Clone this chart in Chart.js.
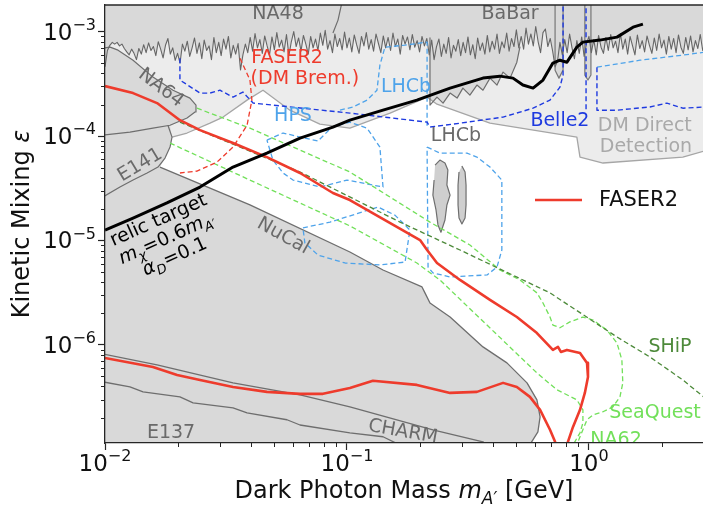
<!DOCTYPE html>
<html>
<head>
<meta charset="utf-8">
<script src="https://cdn.jsdelivr.net/npm/chart.js@4.4.1/dist/chart.umd.min.js"></script>
<style>
  html, body { margin: 0; padding: 0; background: #fff; }
  canvas { display: block; }
</style>
</head>
<body>
<canvas id="chart" width="703" height="505"></canvas>
<script>
// ---- data: [mass (GeV), epsilon] ----
const babarLimit = [
  [0.01,4.6e-4],[0.01023,6.6e-4],[0.01047,7.4e-4],[0.01072,7.9e-4],[0.01096,7.6e-4],[0.01122,7.9e-4],[0.01148,7.3e-4],
  [0.01175,7.6e-4],[0.01202,6.9e-4],[0.0123,6.4e-4],[0.01259,6.0e-4],[0.01288,6.8e-4],[0.01318,6.2e-4],[0.01349,5.4e-4],
  [0.0138,6.9e-4],[0.01413,6.1e-4],[0.01445,7.5e-4],[0.01479,6.3e-4],[0.01514,7.8e-4],[0.01549,6.6e-4],[0.01585,7.2e-4],
  [0.01622,5.9e-4],[0.0166,8.0e-4],[0.01698,6.8e-4],[0.01738,5.6e-4],[0.01778,7.4e-4],[0.0182,8.6e-4],[0.01862,6.1e-4],
  [0.01905,7.0e-4],[0.0195,5.3e-4],[0.01995,6.2e-4],[0.02042,5.0e-4],[0.02089,7.6e-4],[0.02138,6.5e-4],[0.02188,8.1e-4],
  [0.02239,5.8e-4],[0.02291,7.0e-4],[0.02344,8.7e-4],[0.02399,6.2e-4],[0.02455,7.8e-4],[0.02512,5.5e-4],[0.0257,8.3e-4],
  [0.0263,6.6e-4],[0.02692,7.3e-4],[0.02754,5.4e-4],[0.02818,8.8e-4],[0.02884,6.3e-4],[0.02951,7.9e-4],[0.0302,5.9e-4],
  [0.0309,8.5e-4],[0.03162,6.8e-4],[0.03236,9.0e-4],[0.03311,5.6e-4],[0.03388,7.4e-4],[0.03467,6.1e-4],[0.03548,7.7e-4],
  [0.03631,4.3e-4],[0.03715,6.0e-4],[0.03802,7.6e-4],[0.0389,6.3e-4],[0.03981,8.8e-4],[0.04074,6.5e-4],[0.04169,9.6e-4],
  [0.04266,7.0e-4],[0.04365,8.4e-4],[0.04467,6.2e-4],[0.04571,9.1e-4],[0.04677,7.3e-4],[0.04786,6.0e-4],[0.04898,8.9e-4],
  [0.05012,6.7e-4],[0.05129,9.8e-4],[0.05248,7.1e-4],[0.0537,8.3e-4],[0.05495,6.4e-4],[0.05623,9.4e-4],[0.05754,5.9e-4],
  [0.05888,8.0e-4],[0.06026,1.0e-3],[0.06166,7.2e-4],[0.0631,8.7e-4],[0.06457,6.5e-4],[0.06607,9.2e-4],[0.06761,7.6e-4],
  [0.06918,6.1e-4],[0.07079,9.0e-4],[0.07244,7.0e-4],[0.07413,8.5e-4],[0.07586,6.6e-4],[0.07762,9.7e-4],[0.07943,7.4e-4],
  [0.08128,1.03e-3],[0.08318,6.8e-4],[0.08511,8.2e-4],[0.0871,6.3e-4],[0.08913,9.5e-4],[0.0912,7.2e-4],[0.09333,8.6e-4],
  [0.0955,6.7e-4],[0.09772,9.9e-4],[0.1,7.0e-4],[0.1023,8.7e-4],[0.1047,6.4e-4],[0.1072,9.3e-4],[0.1096,7.5e-4],
  [0.1122,6.2e-4],[0.1148,9.0e-4],[0.1175,7.3e-4],[0.1202,9.8e-4],[0.123,6.8e-4],[0.1259,8.4e-4],[0.1288,6.5e-4],
  [0.1318,9.5e-4],[0.1349,7.7e-4],[0.138,6.3e-4],[0.1413,9.1e-4],[0.1445,7.0e-4],[0.1479,8.8e-4],[0.1514,6.6e-4],
  [0.1549,9.7e-4],[0.1585,7.2e-4],[0.1622,8.5e-4],[0.166,6.1e-4],[0.1698,9.2e-4],[0.1738,7.6e-4],[0.1778,8.9e-4],
  [0.182,6.7e-4],[0.1862,9.4e-4],[0.1905,7.1e-4],[0.195,8.2e-4],[0.1995,6.4e-4],[0.2042,9.0e-4],[0.2089,7.3e-4],
  [0.2138,8.6e-4],[0.2188,6.0e-4],[0.2239,8.3e-4],[0.2291,5.4e-4],[0.2344,7.2e-4],[0.2399,8.5e-4],[0.2455,5.8e-4],
  [0.2512,7.6e-4],[0.257,6.2e-4],[0.263,8.8e-4],[0.2692,5.6e-4],[0.2754,7.4e-4],[0.2818,6.5e-4],[0.2884,8.4e-4],
  [0.2951,5.9e-4],[0.302,7.9e-4],[0.309,6.3e-4],[0.3162,8.9e-4],[0.3236,6.0e-4],[0.3311,7.5e-4],[0.3388,5.5e-4],
  [0.3467,8.7e-4],[0.3548,6.6e-4],[0.3631,7.8e-4],[0.3715,6.1e-4],[0.3802,9.2e-4],[0.389,6.4e-4],[0.3981,8.1e-4],
  [0.4074,6.8e-4],[0.4169,9.5e-4],[0.4266,6.2e-4],[0.4365,8.0e-4],[0.4467,7.0e-4],[0.4571,9.7e-4],[0.4677,6.5e-4],
  [0.4786,8.6e-4],[0.4898,7.2e-4],[0.5012,1.04e-3],[0.5129,7.0e-4],[0.5248,9.0e-4],[0.537,6.8e-4],[0.5495,1.08e-3],
  [0.5623,7.6e-4],[0.5754,9.5e-4],[0.5888,7.3e-4],[0.6026,1.12e-3],[0.6166,8.0e-4],[0.631,6.3e-4],[0.6457,9.8e-4],
  [0.6607,1.06e-3],[0.6761,7.2e-4],[0.6918,8.6e-4],[0.7079,6.5e-4],[0.7244,4.6e-4],[0.7413,5.2e-4],[0.7586,7.9e-4],
  [0.7762,6.0e-4],[0.7943,8.4e-4],[0.8128,6.3e-4],[0.8318,9.5e-4],[0.8511,7.0e-4],[0.871,5.5e-4],[0.8913,8.2e-4],
  [0.912,6.2e-4],[0.9333,8.9e-4],[0.955,5.8e-4],[0.9772,7.7e-4],[1.0,9.0e-4],[1.023,6.3e-4],[1.047,8.4e-4],
  [1.072,6.0e-4],[1.096,9.2e-4],[1.122,7.1e-4],[1.148,6.2e-4],[1.175,8.8e-4],[1.202,6.6e-4],[1.23,9.4e-4],
  [1.259,7.0e-4],[1.288,8.1e-4],[1.318,6.3e-4],[1.349,9.6e-4],[1.38,6.8e-4],[1.413,8.5e-4],[1.445,6.1e-4],
  [1.479,9.0e-4],[1.514,7.3e-4],[1.549,6.0e-4],[1.585,9.3e-4],[1.622,6.9e-4],[1.66,8.2e-4],[1.698,6.4e-4],
  [1.738,9.1e-4],[1.778,7.4e-4],[1.82,6.2e-4],[1.862,8.7e-4],[1.905,6.6e-4],[1.95,9.5e-4],[1.995,7.0e-4],
  [2.042,8.3e-4],[2.089,6.1e-4],[2.138,9.0e-4],[2.188,6.8e-4],[2.239,8.6e-4],[2.291,6.3e-4],[2.344,9.3e-4],
  [2.399,7.1e-4],[2.455,6.2e-4],[2.512,8.8e-4],[2.57,6.7e-4],[2.63,9.1e-4],[2.692,6.4e-4],[2.754,8.2e-4],
  [2.818,6.9e-4],[2.884,9.4e-4],[2.951,6.6e-4],[3.02,8.0e-4]
];
const na48Edge = [[0.09528,1.9e-3],[0.09183,1.29e-3],[0.0875,9.7e-4]];
const lhcbEdge = [
  [0.2203,8.7e-4],[0.2203,1.98e-4],[0.2355,2.36e-4],[0.2495,2.07e-4],[0.2667,2.58e-4],[0.2851,2.31e-4],
  [0.3013,2.88e-4],[0.3221,2.47e-4],[0.3443,3.08e-4],[0.3648,2.75e-4],[0.3899,3.59e-4],[0.4169,3.08e-4],
  [0.4416,4.10e-4],[0.4721,3.59e-4],[0.5035,5.10e-4],[0.5188,7.2e-4]
];
const spikeA = [[0.7244,2e-3],[0.7244,4.28e-4],[0.7516,3.59e-4],[0.7816,4.28e-4],[0.7816,2e-3]];
const spikeB = [[0.9616,2e-3],[0.9616,3.84e-4],[0.9908,3.44e-4],[1.019,3.84e-4],[1.019,2e-3]];
const allowedTop = [
  [0.01892,9.78e-5],[0.02183,1.07e-4],[0.02716,1.33e-4],[0.03076,1.52e-4],[0.03864,2.21e-4],[0.04498,2.75e-4],
  [0.05808,1.77e-4],[0.07727,1.30e-4],[0.1028,1.19e-4],[0.1507,1.66e-4],[0.2143,2.36e-4],[0.2355,2.02e-4],
  [0.3899,1.33e-4],[0.8913,9.78e-5],[0.9183,6.29e-5],[1.143,5.52e-5],[2.443,6.29e-5],[3.1,7.35e-5]
];
const na64Shape = [
  [0.0098,1.02e-4],[0.01268,1.09e-4],[0.01578,1.19e-4],[0.01857,1.27e-4],[0.02183,1.49e-4],[0.02355,1.70e-4],
  [0.02377,1.98e-4],[0.02244,2.31e-4],[0.0191,2.75e-4],[0.01578,3.67e-4],[0.01306,5.33e-4],[0.01132,6.65e-4],
  [0.0105,7.11e-4],[0.0098,6.95e-4]
];
const e141Edge = [
  [0.0098,2.61e-5],[0.01153,3.25e-5],[0.01306,3.79e-5],[0.01493,4.43e-5],[0.01656,5.05e-5],[0.0177,6.15e-5],
  [0.01857,7.85e-5],[0.01892,9.78e-5],[0.0182,1.27e-4]
];
const nucalEdge = [
  [0.5546,1.0e-7],[0.6152,1.47e-7],[0.6281,2.05e-7],[0.6095,2.98e-7],[0.5546,4.33e-7],[0.4581,6.73e-7],
  [0.3648,9.57e-7],[0.2667,1.85e-6],[0.2203,2.52e-6],[0.2100,3.15e-6],[0.2042,3.59e-6],[0.1409,5.22e-6],
  [0.1028,7.76e-6],[0.03972,2.19e-5],[0.01687,5.05e-5]
];
const charmEdge = [
  [0.0098,8.2e-7],[0.01641,6.44e-7],[0.03381,4.33e-7],[0.06397,3.32e-7],[0.1028,2.55e-7],[0.2265,1.54e-7],
  [0.3648,1.18e-7],[0.3899,1.03e-7]
];
const e137Edge = [
  [0.0098,4.43e-7],[0.01268,3.96e-7],[0.01436,3.55e-7],[0.0204,3.18e-7],[0.02312,2.79e-7],[0.03381,2.50e-7],
  [0.03864,2.23e-7],[0.05649,1.92e-7],[0.06397,1.71e-7],[0.1028,1.44e-7],[0.1409,1.32e-7],[0.1656,1.10e-7]
];
const lhcbBlobA = [
  [0.2312,5.27e-5],[0.2421,5.89e-5],[0.2541,5.52e-5],[0.2612,4.73e-5],[0.2588,3.40e-5],[0.2667,2.72e-5],
  [0.2588,2.19e-5],[0.2541,1.57e-5],[0.2445,1.20e-5],[0.2377,1.41e-5],[0.2333,1.96e-5],[0.2265,2.72e-5],
  [0.2291,3.79e-5]
];
const lhcbBlobB = [
  [0.2985,5.16e-5],[0.3076,4.53e-5],[0.3105,3.40e-5],[0.3105,2.19e-5],[0.3076,1.64e-5],[0.2985,1.44e-5],
  [0.2904,1.64e-5],[0.2877,2.19e-5],[0.2877,3.40e-5],[0.2904,4.53e-5]
];
const faser2 = [
  [0.0100,3.01e-4],[0.01306,2.58e-4],[0.01641,2.07e-4],[0.0204,1.42e-4],[0.0247,1.14e-4],[0.03381,8.57e-5],
  [0.04667,6.29e-5],[0.06397,4.43e-5],[0.0875,2.85e-5],[0.1028,2.44e-5],[0.2004,1.01e-5],[0.2143,8.11e-6],
  [0.2355,6.09e-6],[0.2931,4.19e-6],[0.3899,2.70e-6],[0.5035,1.85e-6],[0.6095,1.30e-6],[0.7096,8.96e-7],
  [0.7447,9.57e-7],[0.7656,8.57e-7],[0.8110,8.96e-7],[0.9183,8.38e-7],[0.9817,6.73e-7],[0.9908,4.94e-7],
  [0.9616,3.47e-7],[0.9183,2.39e-7],[0.8590,1.64e-7],[0.8185,1.18e-7],[0.8035,1.03e-7],
  [0.7096,1.03e-7],[0.7244,1.18e-7],[0.6902,1.54e-7],[0.6281,2.39e-7],[0.5702,3.18e-7],[0.5035,3.96e-7],
  [0.4416,4.33e-7],[0.3443,3.55e-7],[0.2667,3.47e-7],[0.1945,4.14e-7],[0.1280,4.53e-7],[0.1028,3.87e-7],
  [0.0796,3.40e-7],[0.06397,3.40e-7],[0.04667,3.55e-7],[0.03381,3.96e-7],[0.0247,4.62e-7],[0.01986,5.16e-7],
  [0.01578,6.15e-7],[0.0100,7.51e-7]
];
const faser2Brem = [
  [0.03614,5.57e-4],[0.03972,3.44e-4],[0.04046,2.21e-4],[0.03864,1.27e-4],[0.03381,7.85e-5],[0.02904,5.64e-5],
  [0.02399,4.62e-5],[0.0204,4.43e-5]
];
const seaQuest = [
  [0.02399,1.85e-4],[0.03972,1.19e-4],[0.1028,4.53e-5],[0.2203,1.50e-5],[0.3221,9.06e-6],[0.4285,5.22e-6],
  [0.5188,4.19e-6],[0.6095,3.15e-6],[0.6457,2.52e-6],[0.6902,1.85e-6],[0.7096,1.55e-6],[0.7586,1.46e-6],
  [0.8337,1.66e-6],[0.9441,1.85e-6],[1.040,1.73e-6],[1.186,1.39e-6],[1.306,1.04e-6],[1.368,7.18e-7],
  [1.380,4.33e-7],[1.343,3.18e-7],[1.256,2.55e-7],[1.143,2.29e-7],[1.040,2.14e-7],[0.9817,1.92e-7],
  [0.9183,1.32e-7],[0.8913,1.10e-7]
];
const ship = [
  [0.0204,1.36e-4],[0.06397,4.53e-5],[0.1656,1.50e-5],[0.2931,8.11e-6],[0.6902,3.15e-6],[1.306,1.19e-6],
  [1.786,7.67e-7],[2.443,4.62e-7],[3.013,3.11e-7]
];
const na62 = [
  [0.01857,8.57e-5],[0.03972,3.79e-5],[0.1028,1.38e-5],[0.1945,6.09e-6],[0.2421,4.19e-6],[0.6095,5.39e-7],
  [0.7379,3.71e-7],[0.8913,2.98e-7],[0.9441,2.39e-7],[0.9441,1.79e-7],[0.9183,1.44e-7],[0.8590,1.10e-7]
];
const belle2 = [
  [0.0204,5.57e-4],[0.0204,3.44e-4],[0.0247,2.58e-4],[0.02716,2.58e-4],[0.02985,2.75e-4],[0.03381,2.36e-4],
  [0.03715,2.64e-4],[0.04093,2.07e-4],[0.1028,1.66e-4],[0.2143,1.36e-4],[0.2203,1.22e-4],[0.2742,1.30e-4],
  [0.4416,1.52e-4],[0.5875,1.85e-4],[0.6902,2.21e-4],[0.7586,2.94e-4],[0.7816,3.84e-4],[0.7816,2e-3]
];
const belle2Wall = [[0.9727,2e-3],[0.9727,1.77e-4]];
const belle2Right = [
  [1.079,4.57e-4],[1.079,1.77e-4],[1.306,1.77e-4],[1.786,1.90e-4],[2.099,2.07e-4],[2.443,1.85e-4],[3.013,1.90e-4]
];
const lhcbUpper = [
  [0.09354,1.77e-4],[0.1059,1.90e-4],[0.1211,2.21e-4],[0.1330,2.75e-4],[0.1368,4.78e-4],[0.1435,7.11e-4],
  [0.1738,7.43e-4],[0.2143,7.94e-4],[0.2143,1.22e-4]
];
const lhcbLower = [
  [0.2143,7.85e-5],[0.2421,6.87e-5],[0.3133,6.87e-5],[0.3443,6.29e-5],[0.3899,5.05e-5],[0.4365,3.79e-5],
  [0.4365,8.11e-6],[0.4169,5.57e-6],[0.3793,4.68e-6],[0.2667,4.48e-6],[0.2265,4.89e-6],[0.2163,5.57e-6],
  [0.2143,7.85e-5]
];
const lhcbRight = [[1.079,4.57e-4],[1.626,5.33e-4],[2.443,5.96e-4],[3.013,6.37e-4]];
const hpsA = [
  [0.04667,9.16e-5],[0.05445,1.07e-4],[0.06397,9.78e-5],[0.07586,8.96e-5],[0.0867,1.22e-4],[0.1028,1.36e-4],
  [0.1211,1.19e-4],[0.1368,7.85e-5],[0.1409,3.25e-5],[0.1000,3.79e-5],[0.07727,3.25e-5],[0.05984,3.79e-5],
  [0.05445,4.43e-5],[0.04943,5.89e-5],[0.04667,9.16e-5]
];
const hpsB = [
  [0.06577,1.32e-5],[0.08511,1.50e-5],[0.1343,2.09e-5],[0.1578,1.75e-5],[0.1820,1.26e-5],[0.1738,6.22e-6],
  [0.1368,5.83e-6],[0.09817,6.09e-6],[0.07586,7.26e-6],[0.06699,9.47e-6],[0.06577,1.32e-5]
];
const relicTarget = [
  [0.0100,1.26e-5],[0.01306,1.64e-5],[0.01803,2.29e-5],[0.0247,3.25e-5],[0.03381,5.05e-5],[0.04667,6.87e-5],
  [0.06397,9.57e-5],[0.0875,1.22e-4],[0.1028,1.42e-4],[0.1409,1.77e-4],[0.1945,2.21e-4],[0.2667,2.88e-4],
  [0.3648,3.59e-4],[0.4285,3.75e-4],[0.4853,3.59e-4],[0.5333,3.08e-4],[0.5875,2.88e-4],[0.6457,3.44e-4],
  [0.7096,5.00e-4],[0.7586,5.33e-4],[0.8110,5.10e-4],[0.8913,7.11e-4],[0.9441,7.94e-4],[1.109,8.30e-4],
  [1.306,8.86e-4],[1.521,1.104e-3],[1.671,1.180e-3]
];
const xDecades = [0.01, 0.1, 1];
const yDecades = [1e-6, 1e-5, 1e-4, 1e-3];

const DARK = '#d9d9d9', LIGHT = '#ececec', EDGE = '#6e6e6e', SOFT = '#a6a6a6', TXT = '#6a6a6a';
const RED = '#ee3b2c', LGREEN = '#72e05a', DGREEN = '#4d8a3a', BLUE = '#1e3ae0', LBLUE = '#4ea3ea';
const FONT = '"DejaVu Sans"';

const annotations = [
  { text: 'NA48', x: 0.0519, y: 1.47e-3, color: TXT },
  { text: 'BaBar', x: 0.4721, y: 1.47e-3, color: TXT },
  { text: 'FASER2', x: 0.05649, y: 5.6e-4, color: RED },
  { text: '(DM Brem.)', x: 0.06699, y: 3.51e-4, color: RED },
  { text: 'LHCb', x: 0.1754, y: 2.94e-4, color: LBLUE },
  { text: 'HPS', x: 0.05984, y: 1.55e-4, color: LBLUE },
  { text: 'LHCb', x: 0.2821, y: 1.0e-4, color: TXT },
  { text: 'Belle2', x: 0.7586, y: 1.40e-4, color: BLUE },
  { text: 'DM Direct', x: 1.702, y: 1.25e-4, color: '#a9a9a9' },
  { text: 'Detection', x: 1.720, y: 7.85e-5, color: '#a9a9a9' },
  { text: 'NA64', x: 0.01703, y: 2.88e-4, color: TXT, rot: 37 },
  { text: 'E141', x: 0.01396, y: 5.27e-5, color: TXT, rot: -31 },
  { text: 'NuCal', x: 0.05445, y: 1.10e-5, color: TXT, rot: 29 },
  { text: 'E137', x: 0.01875, y: 1.44e-7, color: TXT },
  { text: 'CHARM', x: 0.1702, y: 1.47e-7, color: TXT, rot: 10 },
  { text: 'SHiP', x: 2.163, y: 9.57e-7, color: DGREEN },
  { text: 'SeaQuest', x: 1.875, y: 2.23e-7, color: LGREEN },
  { text: 'NA62', x: 1.294, y: 1.22e-7, color: LGREEN }
];
const relicAnchor = { x: 0.01786, y: 1.08e-5 };

// ---- helpers ----
const pts = (arr) => arr.map(([x, y]) => ({ x, y }));
const shape = (arr, color, edge) => ({
  data: pts(arr), showLine: true, fill: 'shape', backgroundColor: color,
  borderColor: edge || 'rgba(0,0,0,0)', borderWidth: 1.2, pointRadius: 0
});
const curve = (arr, color, width, dash) => ({
  data: pts(arr), showLine: true, fill: false, borderColor: color,
  borderWidth: width, borderDash: dash || [], pointRadius: 0
});
const DASH = [5, 3];

const layers = [
  shape(babarLimit.concat([[3.1, 8.2e-4]], allowedTop.slice().reverse(), na64Shape.slice(0, 4).reverse()), LIGHT),
  shape([[0.2203, 1.3e-3]].concat(lhcbEdge, [[0.5188, 1.3e-3]]), DARK),
  shape(spikeA, DARK, '#777'),
  shape(spikeB, DARK, '#777'),
  shape(allowedTop.concat([[3.1, 1.0e-7]], nucalEdge, e141Edge.slice(5, 7)), '#ffffff'),
  shape(na64Shape, DARK, EDGE),
  shape(lhcbBlobA, '#cfcfcf', EDGE),
  shape(lhcbBlobB, '#cfcfcf', EDGE),
  curve(allowedTop, SOFT, 1.3),
  curve(babarLimit, '#666666', 1.1),
  curve(na48Edge, EDGE, 1.2),
  curve(lhcbEdge, EDGE, 1.2),
  curve(e141Edge, EDGE, 1.2),
  curve(nucalEdge, EDGE, 1.3),
  curve(charmEdge, EDGE, 1.3),
  curve(e137Edge, EDGE, 1.3),
  curve(hpsA, LBLUE, 1.3, DASH),
  curve(hpsB, LBLUE, 1.3, DASH),
  curve(lhcbUpper, LBLUE, 1.3, DASH),
  curve(lhcbLower, LBLUE, 1.3, DASH),
  curve(lhcbRight, LBLUE, 1.3, DASH),
  curve(belle2, BLUE, 1.4, DASH),
  curve(belle2Wall, BLUE, 1.4, DASH),
  curve(belle2Right, BLUE, 1.4, DASH),
  curve(na62, LGREEN, 1.3, DASH),
  curve(seaQuest, LGREEN, 1.3, DASH),
  curve(ship, DGREEN, 1.3, DASH),
  curve(faser2Brem, RED, 1.3, DASH),
  curve(faser2, RED, 2.6),
  curve(relicTarget, '#000000', 3)
];
layers.forEach((d, i) => { d.order = layers.length - i; });

const isDecade = (v, list) => list.some((d) => Math.abs(v / d - 1) < 1e-6);
const minorTicks = (lo, hi) => {
  const out = [];
  for (let e = Math.floor(Math.log10(lo)); e <= Math.ceil(Math.log10(hi)); e++) {
    for (let m = 1; m < 10; m++) {
      const v = m * Math.pow(10, e);
      if (v >= lo * 0.9999 && v <= hi) out.push(v);
    }
  }
  return out;
};

// parts: [text, style]; style letters: i = italic, s = subscript, u = superscript
function richText(ctx, parts, x, y, size, align) {
  const small = (st) => st.includes('s') || st.includes('u');
  const fontFor = (st) => (st.includes('i') ? 'italic ' : '') + (small(st) ? Math.round(size * 0.7) : size) + 'px ' + FONT;
  const widths = parts.map(([t, st]) => { ctx.font = fontFor(st); return ctx.measureText(t).width; });
  const total = widths.reduce((a, b) => a + b, 0);
  let cx = align === 'center' ? x - total / 2 : align === 'right' ? x - total : x;
  ctx.textAlign = 'left';
  ctx.textBaseline = 'alphabetic';
  parts.forEach(([t, st], i) => {
    ctx.font = fontFor(st);
    const dy = st.includes('s') ? size * 0.25 : st.includes('u') ? -size * 0.42 : 0;
    ctx.fillText(t, cx, y + dy);
    cx += widths[i];
  });
}
const powParts = (v) => {
  const e = Math.round(Math.log10(v));
  return [['10', ''], [(e < 0 ? '\u2212' : '') + Math.abs(e), 'u']];
};

const decor = {
  id: 'decor',
  beforeDatasetsDraw(chart) {
    const { ctx, chartArea: a } = chart;
    ctx.save();
    ctx.fillStyle = DARK;
    ctx.fillRect(a.left, a.top, a.right - a.left, a.bottom - a.top);
    ctx.restore();
  },
  afterDatasetsDraw(chart) {
    const { ctx, chartArea: a, scales: { x, y } } = chart;
    ctx.save();
    ctx.beginPath();
    ctx.rect(a.left, a.top, a.right - a.left, a.bottom - a.top);
    ctx.clip();
    annotations.forEach((L) => {
      ctx.save();
      ctx.translate(x.getPixelForValue(L.x), y.getPixelForValue(L.y));
      ctx.rotate((L.rot || 0) * Math.PI / 180);
      ctx.fillStyle = L.color;
      ctx.font = '19px ' + FONT;
      ctx.textAlign = 'center';
      ctx.textBaseline = 'middle';
      ctx.fillText(L.text, 0, 0);
      ctx.restore();
    });
    ctx.save();
    ctx.translate(x.getPixelForValue(relicAnchor.x), y.getPixelForValue(relicAnchor.y));
    ctx.rotate(-24 * Math.PI / 180);
    ctx.fillStyle = '#000';
    richText(ctx, [['relic target', '']], 0, -13, 19, 'center');
    richText(ctx, [['m', 'i'], ['\u03c7', 'si'], ['=0.6', ''], ['m', 'i'], ['A\u2032', 'si']], 0, 7, 19, 'center');
    richText(ctx, [['\u03b1', 'i'], ['D', 'si'], ['=0.1', '']], 0, 27, 19, 'center');
    ctx.restore();
    ctx.restore();
  },
  afterDraw(chart) {
    const { ctx, chartArea: a, scales: { x, y } } = chart;
    ctx.save();
    ctx.strokeStyle = '#262626';
    ctx.lineWidth = 1.3;
    ctx.beginPath();
    ctx.moveTo(a.left, a.top);
    ctx.lineTo(a.right, a.top);
    ctx.stroke();
    ctx.lineWidth = 1;
    ctx.beginPath();
    minorTicks(x.min, x.max).filter((v) => !isDecade(v, xDecades)).forEach((v) => {
      const px = Math.round(x.getPixelForValue(v)) + 0.5;
      ctx.moveTo(px, a.bottom);
      ctx.lineTo(px, a.bottom + 4);
    });
    minorTicks(y.min, y.max).filter((v) => !isDecade(v, yDecades)).forEach((v) => {
      const py = Math.round(y.getPixelForValue(v)) + 0.5;
      ctx.moveTo(a.left, py);
      ctx.lineTo(a.left - 4, py);
    });
    ctx.stroke();

    // decade tick labels
    ctx.fillStyle = '#111';
    xDecades.forEach((v) => richText(ctx, powParts(v), x.getPixelForValue(v), a.bottom + 28, 23, 'center'));
    yDecades.forEach((v) => richText(ctx, powParts(v), a.left - 9, y.getPixelForValue(v) + 8, 23, 'right'));

    // axis titles
    richText(ctx, [['Dark Photon Mass ', ''], ['m', 'i'], ['A\u2032', 'si'], [' [GeV]', '']], (a.left + a.right) / 2, 498, 24, 'center');
    ctx.save();
    ctx.translate(29, (a.top + a.bottom) / 2);
    ctx.rotate(-Math.PI / 2);
    richText(ctx, [['Kinetic Mixing ', ''], ['\u03b5', 'i']], 0, 0, 24, 'center');
    ctx.restore();

    // legend
    ctx.strokeStyle = RED;
    ctx.lineWidth = 2.6;
    ctx.beginPath();
    ctx.moveTo(535, 200);
    ctx.lineTo(582, 200);
    ctx.stroke();
    ctx.fillStyle = '#111';
    ctx.font = '21px ' + FONT;
    ctx.textAlign = 'left';
    ctx.textBaseline = 'middle';
    ctx.fillText('FASER2', 599, 201);
    ctx.restore();
  }
};

const axisCommon = {
  type: 'logarithmic',
  border: { display: true, color: '#262626', width: 1.3, z: 1 },
  grid: {
    display: true, drawOnChartArea: false, drawTicks: true, tickLength: 7, tickWidth: 1.2,
    tickColor: (c) => (c.tick && c.tick.major ? '#262626' : 'rgba(0,0,0,0)')
  },
  ticks: { display: false, autoSkip: false }
};

new Chart(document.getElementById('chart'), {
  type: 'scatter',
  data: { datasets: layers },
  options: {
    responsive: false,
    animation: false,
    events: [],
    layout: { padding: { top: 5, right: 0, left: 0, bottom: 0 } },
    elements: { point: { radius: 0 }, line: { tension: 0, borderJoinStyle: 'round' } },
    plugins: { legend: { display: false }, tooltip: { enabled: false } },
    scales: {
      x: Object.assign({}, axisCommon, {
        min: 0.01, max: 2.96,
        afterBuildTicks: (s) => { s.ticks = minorTicks(0.01, 2.96).map((v) => ({ value: v, major: isDecade(v, xDecades) })); },
        afterFit: (s) => { s.height = 62; }
      }),
      y: Object.assign({}, axisCommon, {
        min: 1.15e-7, max: 1.8e-3,
        afterBuildTicks: (s) => { s.ticks = minorTicks(1.15e-7, 1.8e-3).map((v) => ({ value: v, major: isDecade(v, yDecades) })); },
        afterFit: (s) => { s.width = 105; }
      })
    }
  },
  plugins: [decor]
});
</script>
</body>
</html>
